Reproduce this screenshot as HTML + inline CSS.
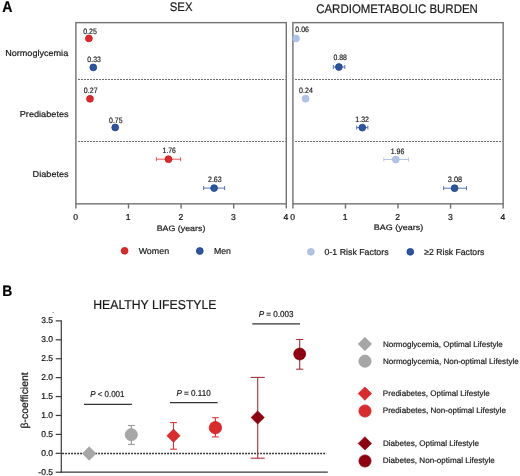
<!DOCTYPE html>
<html><head><meta charset="utf-8"><style>
html,body{margin:0;padding:0;background:#fff;overflow:hidden;}
svg{display:block;will-change:transform;}
</style></head><body>
<svg width="520" height="476" viewBox="0 0 520 476">
<rect width="520" height="476" fill="#fff"/>
<rect x="75.9" y="22.65" width="210.40" height="181.20" fill="none" stroke="#727272" stroke-width="1.4"/>
<line x1="78" y1="79.5" x2="285.6" y2="79.5" stroke="#6e6e6e" stroke-width="1.0" stroke-dasharray="2 1"/>
<line x1="78" y1="141.5" x2="285.6" y2="141.5" stroke="#6e6e6e" stroke-width="1.0" stroke-dasharray="2 1"/>
<line x1="75.90" y1="203.85" x2="75.90" y2="208.6" stroke="#727272" stroke-width="1.4"/>
<text x="75.60" y="220.0" font-family="Liberation Sans, sans-serif" text-rendering="geometricPrecision" stroke="#111111" stroke-width="0.2" font-size="8.6" text-anchor="middle" fill="#111111">0</text>
<line x1="128.50" y1="203.85" x2="128.50" y2="208.6" stroke="#727272" stroke-width="1.4"/>
<text x="128.20" y="220.0" font-family="Liberation Sans, sans-serif" text-rendering="geometricPrecision" stroke="#111111" stroke-width="0.2" font-size="8.6" text-anchor="middle" fill="#111111">1</text>
<line x1="181.10" y1="203.85" x2="181.10" y2="208.6" stroke="#727272" stroke-width="1.4"/>
<text x="180.80" y="220.0" font-family="Liberation Sans, sans-serif" text-rendering="geometricPrecision" stroke="#111111" stroke-width="0.2" font-size="8.6" text-anchor="middle" fill="#111111">2</text>
<line x1="233.70" y1="203.85" x2="233.70" y2="208.6" stroke="#727272" stroke-width="1.4"/>
<text x="233.40" y="220.0" font-family="Liberation Sans, sans-serif" text-rendering="geometricPrecision" stroke="#111111" stroke-width="0.2" font-size="8.6" text-anchor="middle" fill="#111111">3</text>
<line x1="286.30" y1="203.85" x2="286.30" y2="208.6" stroke="#727272" stroke-width="1.4"/>
<text x="286.00" y="220.0" font-family="Liberation Sans, sans-serif" text-rendering="geometricPrecision" stroke="#111111" stroke-width="0.2" font-size="8.6" text-anchor="middle" fill="#111111">4</text>
<rect x="292.9" y="22.65" width="210.25" height="181.20" fill="none" stroke="#727272" stroke-width="1.4"/>
<line x1="295" y1="79.5" x2="502.45" y2="79.5" stroke="#6e6e6e" stroke-width="1.0" stroke-dasharray="2 1"/>
<line x1="295" y1="141.5" x2="502.45" y2="141.5" stroke="#6e6e6e" stroke-width="1.0" stroke-dasharray="2 1"/>
<line x1="292.90" y1="203.85" x2="292.90" y2="208.6" stroke="#727272" stroke-width="1.4"/>
<text x="292.60" y="220.0" font-family="Liberation Sans, sans-serif" text-rendering="geometricPrecision" stroke="#111111" stroke-width="0.2" font-size="8.6" text-anchor="middle" fill="#111111">0</text>
<line x1="345.46" y1="203.85" x2="345.46" y2="208.6" stroke="#727272" stroke-width="1.4"/>
<text x="345.16" y="220.0" font-family="Liberation Sans, sans-serif" text-rendering="geometricPrecision" stroke="#111111" stroke-width="0.2" font-size="8.6" text-anchor="middle" fill="#111111">1</text>
<line x1="398.02" y1="203.85" x2="398.02" y2="208.6" stroke="#727272" stroke-width="1.4"/>
<text x="397.72" y="220.0" font-family="Liberation Sans, sans-serif" text-rendering="geometricPrecision" stroke="#111111" stroke-width="0.2" font-size="8.6" text-anchor="middle" fill="#111111">2</text>
<line x1="450.59" y1="203.85" x2="450.59" y2="208.6" stroke="#727272" stroke-width="1.4"/>
<text x="450.29" y="220.0" font-family="Liberation Sans, sans-serif" text-rendering="geometricPrecision" stroke="#111111" stroke-width="0.2" font-size="8.6" text-anchor="middle" fill="#111111">3</text>
<line x1="503.15" y1="203.85" x2="503.15" y2="208.6" stroke="#727272" stroke-width="1.4"/>
<text x="502.85" y="220.0" font-family="Liberation Sans, sans-serif" text-rendering="geometricPrecision" stroke="#111111" stroke-width="0.2" font-size="8.6" text-anchor="middle" fill="#111111">4</text>
<circle cx="88.9" cy="38.4" r="3.4" fill="#da2a2c" stroke="#d41216" stroke-width="0.8"/>
<circle cx="93.3" cy="67.4" r="3.4" fill="#2c559e" stroke="#1c4290" stroke-width="0.8"/>
<circle cx="90.0" cy="98.8" r="3.4" fill="#da2a2c" stroke="#d41216" stroke-width="0.8"/>
<circle cx="115.2" cy="127.5" r="3.4" fill="#2c559e" stroke="#1c4290" stroke-width="0.8"/>
<line x1="156.4" y1="159.2" x2="180.6" y2="159.2" stroke="#de3c40" stroke-width="0.85"/>
<line x1="156.4" y1="157.2" x2="156.4" y2="161.2" stroke="#de3c40" stroke-width="0.85"/>
<line x1="180.6" y1="157.2" x2="180.6" y2="161.2" stroke="#de3c40" stroke-width="0.85"/>
<circle cx="168.5" cy="159.2" r="3.4" fill="#da2a2c" stroke="#d41216" stroke-width="0.8"/>
<line x1="203.6" y1="188.1" x2="224.6" y2="188.1" stroke="#3d60a5" stroke-width="0.85"/>
<line x1="203.6" y1="186.1" x2="203.6" y2="190.1" stroke="#3d60a5" stroke-width="0.85"/>
<line x1="224.6" y1="186.1" x2="224.6" y2="190.1" stroke="#3d60a5" stroke-width="0.85"/>
<circle cx="214.1" cy="188.1" r="3.4" fill="#2c559e" stroke="#1c4290" stroke-width="0.8"/>
<circle cx="296.0" cy="38.5" r="3.4" fill="#afc3e7" stroke="#a4bbe4" stroke-width="0.8"/>
<line x1="333.3" y1="67.0" x2="344.8" y2="67.0" stroke="#3d60a5" stroke-width="0.85"/>
<line x1="333.3" y1="65.0" x2="333.3" y2="69.0" stroke="#3d60a5" stroke-width="0.85"/>
<line x1="344.8" y1="65.0" x2="344.8" y2="69.0" stroke="#3d60a5" stroke-width="0.85"/>
<circle cx="338.9" cy="67.0" r="3.4" fill="#2c559e" stroke="#1c4290" stroke-width="0.8"/>
<circle cx="305.6" cy="98.7" r="3.4" fill="#afc3e7" stroke="#a4bbe4" stroke-width="0.8"/>
<line x1="356.7" y1="127.6" x2="367.9" y2="127.6" stroke="#3d60a5" stroke-width="0.85"/>
<line x1="356.7" y1="125.6" x2="356.7" y2="129.6" stroke="#3d60a5" stroke-width="0.85"/>
<line x1="367.9" y1="125.6" x2="367.9" y2="129.6" stroke="#3d60a5" stroke-width="0.85"/>
<circle cx="362.3" cy="127.6" r="3.4" fill="#2c559e" stroke="#1c4290" stroke-width="0.8"/>
<line x1="383.8" y1="159.5" x2="408.5" y2="159.5" stroke="#a9bde3" stroke-width="0.85"/>
<line x1="383.8" y1="157.5" x2="383.8" y2="161.5" stroke="#a9bde3" stroke-width="0.85"/>
<line x1="408.5" y1="157.5" x2="408.5" y2="161.5" stroke="#a9bde3" stroke-width="0.85"/>
<circle cx="395.8" cy="159.5" r="3.4" fill="#afc3e7" stroke="#a4bbe4" stroke-width="0.8"/>
<line x1="443.6" y1="188.2" x2="466.5" y2="188.2" stroke="#3d60a5" stroke-width="0.85"/>
<line x1="443.6" y1="186.2" x2="443.6" y2="190.2" stroke="#3d60a5" stroke-width="0.85"/>
<line x1="466.5" y1="186.2" x2="466.5" y2="190.2" stroke="#3d60a5" stroke-width="0.85"/>
<circle cx="454.6" cy="188.2" r="3.4" fill="#2c559e" stroke="#1c4290" stroke-width="0.8"/>
<circle cx="124.6" cy="250.8" r="3.4" fill="#da2a2c" stroke="#d41216" stroke-width="0.8"/>
<circle cx="199.8" cy="251.0" r="3.4" fill="#2c559e" stroke="#1c4290" stroke-width="0.8"/>
<circle cx="310.9" cy="251.8" r="3.4" fill="#afc3e7" stroke="#a4bbe4" stroke-width="0.8"/>
<circle cx="410.3" cy="251.8" r="3.4" fill="#2c559e" stroke="#1c4290" stroke-width="0.8"/>
<line x1="61.3" y1="320.29" x2="61.3" y2="472.82" stroke="#3a3a3a" stroke-width="1.2"/>
<line x1="60.699999999999996" y1="472.22" x2="327.8" y2="472.22" stroke="#3a3a3a" stroke-width="1.2"/>
<line x1="55.699999999999996" y1="320.89" x2="61.3" y2="320.89" stroke="#3a3a3a" stroke-width="1.2"/>
<text x="53.0" y="323.39" font-family="Liberation Sans, sans-serif" text-rendering="geometricPrecision" stroke="#111111" stroke-width="0.2" font-size="8.5" text-anchor="end" fill="#111111">3.5</text>
<line x1="55.699999999999996" y1="339.81" x2="61.3" y2="339.81" stroke="#3a3a3a" stroke-width="1.2"/>
<text x="53.0" y="342.31" font-family="Liberation Sans, sans-serif" text-rendering="geometricPrecision" stroke="#111111" stroke-width="0.2" font-size="8.5" text-anchor="end" fill="#111111">3.0</text>
<line x1="55.699999999999996" y1="358.73" x2="61.3" y2="358.73" stroke="#3a3a3a" stroke-width="1.2"/>
<text x="53.0" y="361.23" font-family="Liberation Sans, sans-serif" text-rendering="geometricPrecision" stroke="#111111" stroke-width="0.2" font-size="8.5" text-anchor="end" fill="#111111">2.5</text>
<line x1="55.699999999999996" y1="377.64" x2="61.3" y2="377.64" stroke="#3a3a3a" stroke-width="1.2"/>
<text x="53.0" y="380.14" font-family="Liberation Sans, sans-serif" text-rendering="geometricPrecision" stroke="#111111" stroke-width="0.2" font-size="8.5" text-anchor="end" fill="#111111">2.0</text>
<line x1="55.699999999999996" y1="396.56" x2="61.3" y2="396.56" stroke="#3a3a3a" stroke-width="1.2"/>
<text x="53.0" y="399.06" font-family="Liberation Sans, sans-serif" text-rendering="geometricPrecision" stroke="#111111" stroke-width="0.2" font-size="8.5" text-anchor="end" fill="#111111">1.5</text>
<line x1="55.699999999999996" y1="415.47" x2="61.3" y2="415.47" stroke="#3a3a3a" stroke-width="1.2"/>
<text x="53.0" y="417.97" font-family="Liberation Sans, sans-serif" text-rendering="geometricPrecision" stroke="#111111" stroke-width="0.2" font-size="8.5" text-anchor="end" fill="#111111">1.0</text>
<line x1="55.699999999999996" y1="434.38" x2="61.3" y2="434.38" stroke="#3a3a3a" stroke-width="1.2"/>
<text x="53.0" y="436.88" font-family="Liberation Sans, sans-serif" text-rendering="geometricPrecision" stroke="#111111" stroke-width="0.2" font-size="8.5" text-anchor="end" fill="#111111">0.5</text>
<line x1="55.699999999999996" y1="453.30" x2="61.3" y2="453.30" stroke="#3a3a3a" stroke-width="1.2"/>
<text x="53.0" y="455.80" font-family="Liberation Sans, sans-serif" text-rendering="geometricPrecision" stroke="#111111" stroke-width="0.2" font-size="8.5" text-anchor="end" fill="#111111">0.0</text>
<line x1="55.699999999999996" y1="472.22" x2="61.3" y2="472.22" stroke="#3a3a3a" stroke-width="1.2"/>
<text x="53.0" y="474.72" font-family="Liberation Sans, sans-serif" text-rendering="geometricPrecision" stroke="#111111" stroke-width="0.2" font-size="8.5" text-anchor="end" fill="#111111">-0.5</text>
<text transform="translate(27.5 400.4) rotate(-90)" font-family="Liberation Sans, sans-serif" text-rendering="geometricPrecision" stroke="#111111" stroke-width="0.2" font-size="10.4" text-anchor="middle" fill="#111111">β-coefficient</text>
<rect x="52.6" y="312" width="1.1" height="1.1" fill="#8a8a8a"/>
<line x1="62.3" y1="453.6" x2="326.5" y2="453.6" stroke="#000" stroke-width="1.5" stroke-dasharray="1.5 1.5"/>
<line x1="131.4" y1="425.5" x2="131.4" y2="444.4" stroke="#9a9a9a" stroke-width="1.1"/>
<line x1="128.0" y1="425.5" x2="134.8" y2="425.5" stroke="#9a9a9a" stroke-width="1.1"/>
<line x1="128.0" y1="444.4" x2="134.8" y2="444.4" stroke="#9a9a9a" stroke-width="1.1"/>
<line x1="173.5" y1="422.6" x2="173.5" y2="449.2" stroke="#d9343a" stroke-width="1.1"/>
<line x1="170.1" y1="422.6" x2="176.9" y2="422.6" stroke="#d9343a" stroke-width="1.1"/>
<line x1="170.1" y1="449.2" x2="176.9" y2="449.2" stroke="#d9343a" stroke-width="1.1"/>
<line x1="215.4" y1="417.7" x2="215.4" y2="436.9" stroke="#d9343a" stroke-width="1.1"/>
<line x1="212.0" y1="417.7" x2="218.8" y2="417.7" stroke="#d9343a" stroke-width="1.1"/>
<line x1="212.0" y1="436.9" x2="218.8" y2="436.9" stroke="#d9343a" stroke-width="1.1"/>
<line x1="257.7" y1="377.4" x2="257.7" y2="458.2" stroke="#a8303a" stroke-width="1.1"/>
<line x1="250.7" y1="377.4" x2="264.7" y2="377.4" stroke="#a8303a" stroke-width="1.1"/>
<line x1="250.7" y1="458.2" x2="264.7" y2="458.2" stroke="#a8303a" stroke-width="1.1"/>
<line x1="299.7" y1="339.5" x2="299.7" y2="369.2" stroke="#a8303a" stroke-width="1.1"/>
<line x1="296.15" y1="339.5" x2="303.25" y2="339.5" stroke="#a8303a" stroke-width="1.1"/>
<line x1="296.15" y1="369.2" x2="303.25" y2="369.2" stroke="#a8303a" stroke-width="1.1"/>
<polygon points="89.2,446.7 96.0,453.5 89.2,460.3 82.4,453.5" fill="#a6a6a6" stroke="#9c9c9c" stroke-width="0.6"/>
<circle cx="131.3" cy="434.7" r="6.1" fill="#a6a6a6" stroke="#9c9c9c" stroke-width="0.7"/>
<polygon points="173.5,429.09999999999997 180.1,435.7 173.5,442.3 166.9,435.7" fill="#da2a2c" stroke="#d41216" stroke-width="0.6"/>
<circle cx="215.4" cy="427.7" r="6.2" fill="#da2a2c" stroke="#d41216" stroke-width="0.7"/>
<polygon points="257.7,410.9 264.3,417.5 257.7,424.1 251.1,417.5" fill="#8e0010" stroke="#870008" stroke-width="0.6"/>
<circle cx="299.7" cy="354.0" r="6.0" fill="#8e0010" stroke="#870008" stroke-width="0.7"/>
<line x1="84.0" y1="404.3" x2="131.9" y2="404.3" stroke="#333" stroke-width="1.3"/>
<line x1="170.0" y1="402.6" x2="217.7" y2="402.6" stroke="#333" stroke-width="1.3"/>
<line x1="252.3" y1="323.9" x2="300.0" y2="323.9" stroke="#333" stroke-width="1.3"/>
<polygon points="364.9,337.3 371.59999999999997,344.0 364.9,350.7 358.2,344.0" fill="#a6a6a6" stroke="#9c9c9c" stroke-width="0.6"/>
<circle cx="365.0" cy="361.2" r="6.1" fill="#a6a6a6" stroke="#9c9c9c" stroke-width="0.7"/>
<polygon points="364.9,386.90000000000003 371.59999999999997,393.6 364.9,400.3 358.2,393.6" fill="#da2a2c" stroke="#d41216" stroke-width="0.6"/>
<circle cx="365.0" cy="411.0" r="6.1" fill="#da2a2c" stroke="#d41216" stroke-width="0.7"/>
<polygon points="364.9,436.7 371.59999999999997,443.4 364.9,450.09999999999997 358.2,443.4" fill="#8e0010" stroke="#870008" stroke-width="0.6"/>
<circle cx="365.0" cy="461.0" r="6.1" fill="#8e0010" stroke="#870008" stroke-width="0.7"/>
<text id="tA" x="2.17" y="12.00" font-family="Liberation Sans, sans-serif" text-rendering="geometricPrecision" font-size="15.600" font-weight="bold" fill="#000" stroke="#000" stroke-width="0.2" textLength="10.21" lengthAdjust="spacingAndGlyphs">A</text>
<text id="tSEX" x="169.79" y="11.00" font-family="Liberation Sans, sans-serif" text-rendering="geometricPrecision" font-size="12.400" font-weight="normal" fill="#1a1a1a" stroke="#1a1a1a" stroke-width="0.2" textLength="22.72" lengthAdjust="spacingAndGlyphs">SEX</text>
<text id="tCMB" x="316.20" y="13.00" font-family="Liberation Sans, sans-serif" text-rendering="geometricPrecision" font-size="12.400" font-weight="normal" fill="#1a1a1a" stroke="#1a1a1a" stroke-width="0.2" textLength="161.69" lengthAdjust="spacingAndGlyphs">CARDIOMETABOLIC BURDEN</text>
<text id="tNorm" x="5.16" y="56.00" font-family="Liberation Sans, sans-serif" text-rendering="geometricPrecision" font-size="8.600" font-weight="normal" fill="#1a1a1a" stroke="#1a1a1a" stroke-width="0.2" textLength="63.04" lengthAdjust="spacingAndGlyphs">Normoglycemia</text>
<text id="tPre" x="19.75" y="117.00" font-family="Liberation Sans, sans-serif" text-rendering="geometricPrecision" font-size="8.600" font-weight="normal" fill="#1a1a1a" stroke="#1a1a1a" stroke-width="0.2" textLength="48.86" lengthAdjust="spacingAndGlyphs">Prediabetes</text>
<text id="tDia" x="32.63" y="177.00" font-family="Liberation Sans, sans-serif" text-rendering="geometricPrecision" font-size="8.600" font-weight="normal" fill="#1a1a1a" stroke="#1a1a1a" stroke-width="0.2" textLength="36.04" lengthAdjust="spacingAndGlyphs">Diabetes</text>
<text id="v1" x="83.18" y="34.00" font-family="Liberation Sans, sans-serif" text-rendering="geometricPrecision" font-size="7.800" font-weight="normal" fill="#1a1a1a" stroke="#1a1a1a" stroke-width="0.18" textLength="13.62" lengthAdjust="spacingAndGlyphs">0.25</text>
<text id="v2" x="87.35" y="62.00" font-family="Liberation Sans, sans-serif" text-rendering="geometricPrecision" font-size="7.800" font-weight="normal" fill="#1a1a1a" stroke="#1a1a1a" stroke-width="0.18" textLength="13.51" lengthAdjust="spacingAndGlyphs">0.33</text>
<text id="v3" x="83.87" y="93.00" font-family="Liberation Sans, sans-serif" text-rendering="geometricPrecision" font-size="7.800" font-weight="normal" fill="#1a1a1a" stroke="#1a1a1a" stroke-width="0.18" textLength="13.70" lengthAdjust="spacingAndGlyphs">0.27</text>
<text id="v4" x="109.09" y="123.00" font-family="Liberation Sans, sans-serif" text-rendering="geometricPrecision" font-size="7.800" font-weight="normal" fill="#1a1a1a" stroke="#1a1a1a" stroke-width="0.18" textLength="13.43" lengthAdjust="spacingAndGlyphs">0.75</text>
<text id="v5" x="162.60" y="153.00" font-family="Liberation Sans, sans-serif" text-rendering="geometricPrecision" font-size="7.800" font-weight="normal" fill="#1a1a1a" stroke="#1a1a1a" stroke-width="0.18" textLength="13.29" lengthAdjust="spacingAndGlyphs">1.76</text>
<text id="v6" x="207.98" y="182.00" font-family="Liberation Sans, sans-serif" text-rendering="geometricPrecision" font-size="7.800" font-weight="normal" fill="#1a1a1a" stroke="#1a1a1a" stroke-width="0.18" textLength="13.71" lengthAdjust="spacingAndGlyphs">2.63</text>
<text id="v7" x="295.35" y="32.00" font-family="Liberation Sans, sans-serif" text-rendering="geometricPrecision" font-size="7.800" font-weight="normal" fill="#1a1a1a" stroke="#1a1a1a" stroke-width="0.18" textLength="13.57" lengthAdjust="spacingAndGlyphs">0.06</text>
<text id="v8" x="333.43" y="60.00" font-family="Liberation Sans, sans-serif" text-rendering="geometricPrecision" font-size="7.800" font-weight="normal" fill="#1a1a1a" stroke="#1a1a1a" stroke-width="0.18" textLength="13.53" lengthAdjust="spacingAndGlyphs">0.88</text>
<text id="v9" x="299.09" y="93.00" font-family="Liberation Sans, sans-serif" text-rendering="geometricPrecision" font-size="7.800" font-weight="normal" fill="#1a1a1a" stroke="#1a1a1a" stroke-width="0.18" textLength="13.74" lengthAdjust="spacingAndGlyphs">0.24</text>
<text id="v10" x="355.35" y="122.00" font-family="Liberation Sans, sans-serif" text-rendering="geometricPrecision" font-size="7.800" font-weight="normal" fill="#1a1a1a" stroke="#1a1a1a" stroke-width="0.18" textLength="13.70" lengthAdjust="spacingAndGlyphs">1.32</text>
<text id="v11" x="390.72" y="154.00" font-family="Liberation Sans, sans-serif" text-rendering="geometricPrecision" font-size="7.800" font-weight="normal" fill="#1a1a1a" stroke="#1a1a1a" stroke-width="0.18" textLength="13.56" lengthAdjust="spacingAndGlyphs">1.96</text>
<text id="v12" x="447.84" y="182.00" font-family="Liberation Sans, sans-serif" text-rendering="geometricPrecision" font-size="7.800" font-weight="normal" fill="#1a1a1a" stroke="#1a1a1a" stroke-width="0.18" textLength="14.40" lengthAdjust="spacingAndGlyphs">3.08</text>
<text id="tBAG1" x="156.68" y="231.00" font-family="Liberation Sans, sans-serif" text-rendering="geometricPrecision" font-size="7.900" font-weight="normal" fill="#1a1a1a" stroke="#1a1a1a" stroke-width="0.2" textLength="48.70" lengthAdjust="spacingAndGlyphs">BAG (years)</text>
<text id="tBAG2" x="373.88" y="230.00" font-family="Liberation Sans, sans-serif" text-rendering="geometricPrecision" font-size="7.900" font-weight="normal" fill="#1a1a1a" stroke="#1a1a1a" stroke-width="0.2" textLength="49.34" lengthAdjust="spacingAndGlyphs">BAG (years)</text>
<text id="tWomen" x="138.66" y="254.00" font-family="Liberation Sans, sans-serif" text-rendering="geometricPrecision" font-size="8.750" font-weight="normal" fill="#1a1a1a" stroke="#1a1a1a" stroke-width="0.2" textLength="30.43" lengthAdjust="spacingAndGlyphs">Women</text>
<text id="tMen" x="213.94" y="254.00" font-family="Liberation Sans, sans-serif" text-rendering="geometricPrecision" font-size="8.750" font-weight="normal" fill="#1a1a1a" stroke="#1a1a1a" stroke-width="0.2" textLength="16.99" lengthAdjust="spacingAndGlyphs">Men</text>
<text id="tRF1" x="324.49" y="255.00" font-family="Liberation Sans, sans-serif" text-rendering="geometricPrecision" font-size="8.750" font-weight="normal" fill="#1a1a1a" stroke="#1a1a1a" stroke-width="0.2" textLength="64.12" lengthAdjust="spacingAndGlyphs">0-1 Risk Factors</text>
<text id="tRF2" x="424.27" y="255.00" font-family="Liberation Sans, sans-serif" text-rendering="geometricPrecision" font-size="8.750" font-weight="normal" fill="#1a1a1a" stroke="#1a1a1a" stroke-width="0.2" textLength="60.12" lengthAdjust="spacingAndGlyphs">≥2 Risk Factors</text>
<text id="tB" x="2.28" y="296.00" font-family="Liberation Sans, sans-serif" text-rendering="geometricPrecision" font-size="15.200" font-weight="bold" fill="#000" stroke="#000" stroke-width="0.2" textLength="10.03" lengthAdjust="spacingAndGlyphs">B</text>
<text id="tHL" x="93.25" y="309.00" font-family="Liberation Sans, sans-serif" text-rendering="geometricPrecision" font-size="12.900" font-weight="normal" fill="#1a1a1a" stroke="#1a1a1a" stroke-width="0.2" textLength="123.20" lengthAdjust="spacingAndGlyphs">HEALTHY LIFESTYLE</text>
<text id="tP1" x="90.16" y="397.00" font-family="Liberation Sans, sans-serif" text-rendering="geometricPrecision" font-size="8.700" font-weight="normal" fill="#1a1a1a" stroke="#1a1a1a" stroke-width="0.2" textLength="34.30" lengthAdjust="spacingAndGlyphs"><tspan font-style="italic">P</tspan> &lt; 0.001</text>
<text id="tP2" x="176.47" y="396.00" font-family="Liberation Sans, sans-serif" text-rendering="geometricPrecision" font-size="8.700" font-weight="normal" fill="#1a1a1a" stroke="#1a1a1a" stroke-width="0.2" textLength="34.19" lengthAdjust="spacingAndGlyphs"><tspan font-style="italic">P</tspan> = 0.110</text>
<text id="tP3" x="258.68" y="317.00" font-family="Liberation Sans, sans-serif" text-rendering="geometricPrecision" font-size="8.700" font-weight="normal" fill="#1a1a1a" stroke="#1a1a1a" stroke-width="0.2" textLength="34.91" lengthAdjust="spacingAndGlyphs"><tspan font-style="italic">P</tspan> = 0.003</text>
<text id="L0" x="382.90" y="347.00" font-family="Liberation Sans, sans-serif" text-rendering="geometricPrecision" font-size="8.000" font-weight="normal" fill="#1a1a1a" stroke="#1a1a1a" stroke-width="0.2" textLength="119.96" lengthAdjust="spacingAndGlyphs">Normoglycemia, Optimal Lifestyle</text>
<text id="L1" x="382.90" y="364.00" font-family="Liberation Sans, sans-serif" text-rendering="geometricPrecision" font-size="8.000" font-weight="normal" fill="#1a1a1a" stroke="#1a1a1a" stroke-width="0.2" textLength="135.80" lengthAdjust="spacingAndGlyphs">Normoglycemia, Non-optimal Lifestyle</text>
<text id="L2" x="382.86" y="396.00" font-family="Liberation Sans, sans-serif" text-rendering="geometricPrecision" font-size="8.000" font-weight="normal" fill="#1a1a1a" stroke="#1a1a1a" stroke-width="0.2" textLength="106.93" lengthAdjust="spacingAndGlyphs">Prediabetes, Optimal Lifestyle</text>
<text id="L3" x="382.79" y="413.00" font-family="Liberation Sans, sans-serif" text-rendering="geometricPrecision" font-size="8.000" font-weight="normal" fill="#1a1a1a" stroke="#1a1a1a" stroke-width="0.2" textLength="123.12" lengthAdjust="spacingAndGlyphs">Prediabetes, Non-optimal Lifestyle</text>
<text id="L4" x="382.90" y="446.00" font-family="Liberation Sans, sans-serif" text-rendering="geometricPrecision" font-size="8.000" font-weight="normal" fill="#1a1a1a" stroke="#1a1a1a" stroke-width="0.2" textLength="96.04" lengthAdjust="spacingAndGlyphs">Diabetes, Optimal Lifestyle</text>
<text id="L5" x="382.85" y="463.00" font-family="Liberation Sans, sans-serif" text-rendering="geometricPrecision" font-size="8.000" font-weight="normal" fill="#1a1a1a" stroke="#1a1a1a" stroke-width="0.2" textLength="112.03" lengthAdjust="spacingAndGlyphs">Diabetes, Non-optimal Lifestyle</text>
</svg>
</body></html>
